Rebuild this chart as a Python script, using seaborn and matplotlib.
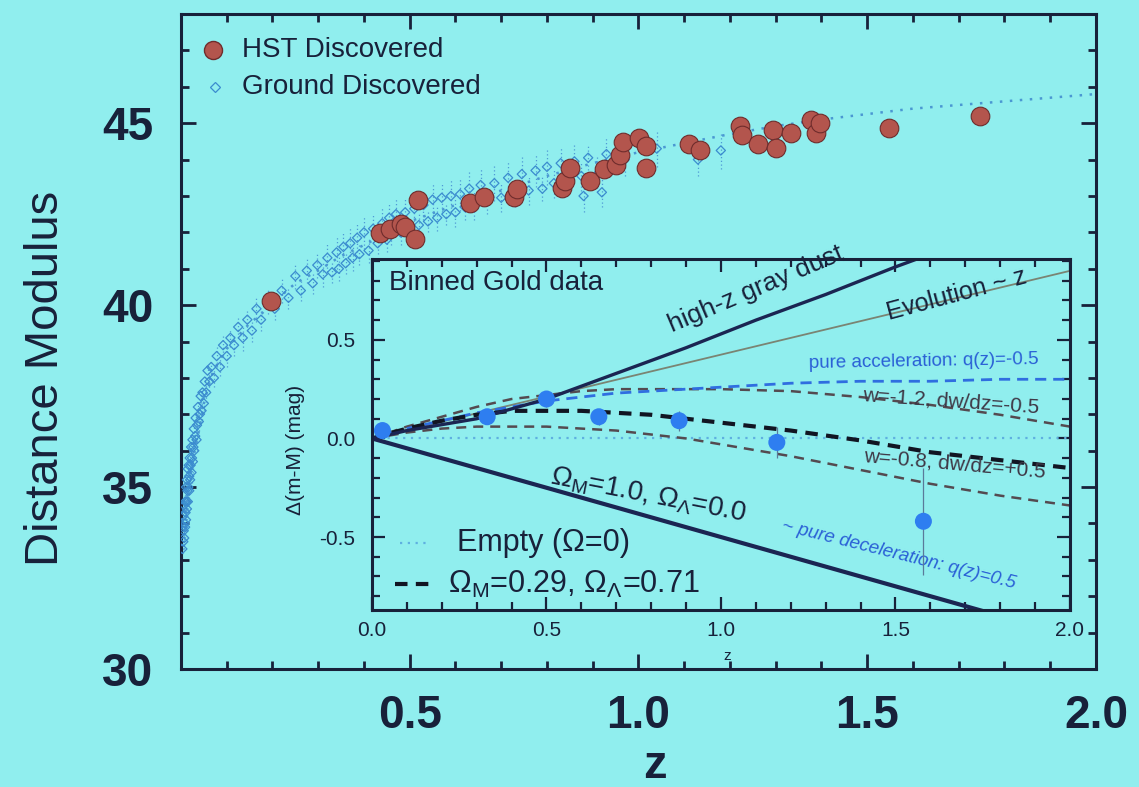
import matplotlib
matplotlib.use("Agg")
import matplotlib.pyplot as plt
import seaborn as sns
from matplotlib.ticker import FixedLocator, FixedFormatter, MultipleLocator

# ---------------- Hubble diagram data ----------------
hst_z = [0.197, 0.436, 0.457, 0.48, 0.49, 0.512, 0.518, 0.632, 0.662, 0.728,
         0.734, 0.832, 0.839, 0.85, 0.893, 0.924, 0.95, 0.96, 0.967, 1.002,
         1.017, 1.017, 1.111, 1.135, 1.222, 1.226, 1.261, 1.294, 1.30, 1.333,
         1.377, 1.388, 1.396, 1.547, 1.747]
hst_mu = [40.11, 41.98, 42.08, 42.24, 42.15, 41.83, 42.89, 42.80, 42.98, 42.96,
          43.18, 43.23, 43.42, 43.77, 43.41, 43.73, 43.85, 44.12, 44.48, 44.60,
          44.38, 43.78, 44.44, 44.27, 44.92, 44.68, 44.42, 44.80, 44.33, 44.73,
          45.10, 44.72, 45.01, 44.87, 45.19]

ground_z = [0.003, 0.004, 0.005, 0.005, 0.006, 0.007, 0.007, 0.008, 0.009, 0.009,
            0.010, 0.011, 0.011, 0.012, 0.013, 0.013, 0.014, 0.015, 0.015, 0.016,
            0.017, 0.018, 0.018, 0.019, 0.020, 0.021, 0.022, 0.023, 0.024, 0.025,
            0.026, 0.027, 0.028, 0.029, 0.031, 0.032, 0.034, 0.035, 0.037, 0.039,
            0.041, 0.043, 0.045, 0.047, 0.050, 0.052, 0.055, 0.058, 0.062, 0.066,
            0.072, 0.078, 0.085, 0.092, 0.100, 0.108, 0.116, 0.125, 0.135, 0.145,
            0.155, 0.165, 0.175, 0.190, 0.205, 0.220, 0.235, 0.250, 0.262, 0.275,
            0.288, 0.298,
            0.31, 0.32, 0.33, 0.34, 0.345, 0.355, 0.36, 0.37, 0.375, 0.385,
            0.39, 0.40, 0.41, 0.42, 0.43, 0.44, 0.45, 0.455, 0.46, 0.47,
            0.48, 0.49, 0.50, 0.51, 0.52, 0.53, 0.54, 0.55, 0.56, 0.57,
            0.58, 0.59,
            0.60, 0.61, 0.62, 0.63, 0.64, 0.655, 0.67, 0.685, 0.70, 0.715,
            0.73, 0.745, 0.76, 0.775, 0.79, 0.80, 0.815, 0.83, 0.845, 0.86,
            0.875, 0.88, 0.89, 0.91, 0.92, 0.93,
            0.97, 1.04, 1.13, 1.18]
ground_mu = [33.3, 33.9, 33.5, 34.2, 33.8, 34.5, 33.6, 34.0, 34.6, 33.9,
             34.3, 35.0, 34.1, 34.6, 35.2, 34.4, 34.9, 35.5, 34.6, 35.0,
             35.6, 34.9, 35.3, 35.8, 35.2, 35.6, 36.1, 35.4, 35.8, 36.3,
             35.7, 36.1, 36.6, 36.0, 36.4, 36.9, 36.3, 36.7, 37.2, 36.8,
             37.0, 37.5, 37.1, 37.6, 37.3, 37.9, 37.6, 38.2, 37.9, 38.3,
             38.0, 38.6, 38.3, 38.9, 38.6, 39.1, 38.9, 39.4, 39.1, 39.6,
             39.3, 39.9, 39.6, 40.1, 39.9, 40.4, 40.2, 40.8, 40.4, 40.95,
             40.6, 41.1,
             40.85, 41.3, 40.9, 41.45, 41.0, 41.6, 41.15, 41.7, 41.3, 41.85,
             41.4, 42.0, 41.5, 42.1, 41.7, 42.25, 41.8, 42.4, 41.95, 42.5,
             42.0, 42.55, 42.1, 42.65, 42.2, 42.75, 42.3, 42.9, 42.4, 42.95,
             42.5, 43.0,
             42.55, 43.05, 42.7, 43.2, 42.75, 43.3, 42.85, 43.35, 42.95, 43.5,
             43.05, 43.6, 43.15, 43.7, 43.2, 43.8, 43.35, 43.9, 43.4, 43.95,
             43.55, 43.0, 44.05, 43.6, 43.1, 44.15,
             44.0, 44.3, 44.0, 44.25]
ground_err = [0.25, 0.2, 0.3, 0.2, 0.25, 0.2, 0.3, 0.2, 0.25, 0.3,
              0.2, 0.25, 0.3, 0.2, 0.2, 0.3, 0.25, 0.2, 0.3, 0.25,
              0.2, 0.3, 0.25, 0.2, 0.25, 0.2, 0.2, 0.3, 0.25, 0.2,
              0.3, 0.25, 0.2, 0.25, 0.2, 0.2, 0.3, 0.25, 0.2, 0.25,
              0.2, 0.2, 0.25, 0.2, 0.3, 0.2, 0.25, 0.2, 0.25, 0.2,
              0.25, 0.3, 0.25, 0.3, 0.3, 0.25, 0.3, 0.3, 0.35, 0.3,
              0.3, 0.35, 0.3, 0.35, 0.3, 0.35, 0.3, 0.35, 0.3, 0.35,
              0.3, 0.35,
              0.35, 0.4, 0.3, 0.45, 0.35, 0.4, 0.3, 0.45, 0.35, 0.4,
              0.3, 0.45, 0.35, 0.4, 0.3, 0.45, 0.35, 0.4, 0.3, 0.45,
              0.35, 0.4, 0.3, 0.45, 0.35, 0.4, 0.3, 0.45, 0.35, 0.4,
              0.3, 0.45,
              0.4, 0.45, 0.35, 0.5, 0.4, 0.45, 0.35, 0.5, 0.4, 0.45,
              0.35, 0.5, 0.4, 0.45, 0.35, 0.5, 0.4, 0.45, 0.35, 0.5,
              0.4, 0.45, 0.35, 0.5, 0.4, 0.45,
              0.45, 0.5, 0.45, 0.5]

model_z = [0.01, 0.02, 0.03, 0.04, 0.05, 0.065, 0.08, 0.10, 0.125, 0.15,
           0.175, 0.20, 0.25, 0.30, 0.35, 0.40, 0.50, 0.60, 0.70, 0.80,
           0.90, 1.00, 1.10, 1.20, 1.30, 1.40, 1.50, 1.60, 1.70, 1.80,
           1.90, 2.00]
model_mu = [34.3, 35.3, 36.0, 36.6, 37.3, 38.0, 38.4, 38.8, 39.15, 39.5,
            39.75, 40.05, 40.6, 40.95, 41.35, 41.65, 42.3, 42.75, 43.15, 43.55,
            43.9, 44.2, 44.45, 44.7, 44.92, 45.1, 45.25, 45.4, 45.5, 45.6,
            45.7, 45.8]

# ---------------- inset: residuals from an empty universe ----------------
bin_z = [0.03, 0.33, 0.50, 0.65, 0.88, 1.16, 1.58]
bin_dm = [0.04, 0.11, 0.20, 0.11, 0.09, -0.02, -0.42]
bin_err = [0.02, 0.03, 0.04, 0.04, 0.05, 0.08, 0.27]

curve_z = [0.0, 0.1, 0.2, 0.3, 0.4, 0.5, 0.6, 0.7, 0.8, 0.9, 1.0, 1.2, 1.4, 1.6, 1.8, 2.0]
lcdm_dm = [0.00, 0.05, 0.09, 0.12, 0.14, 0.14, 0.14, 0.13, 0.12, 0.10, 0.08, 0.04, -0.01, -0.07, -0.11, -0.15]
accel_dm = [0.00, 0.05, 0.09, 0.13, 0.16, 0.19, 0.21, 0.23, 0.24, 0.25, 0.26, 0.28, 0.29, 0.29, 0.30, 0.30]
w12_dm = [0.00, 0.06, 0.11, 0.16, 0.20, 0.22, 0.24, 0.25, 0.25, 0.25, 0.25, 0.24, 0.21, 0.17, 0.12, 0.06]
w08_dm = [0.00, 0.03, 0.05, 0.06, 0.06, 0.06, 0.05, 0.04, 0.02, 0.00, -0.03, -0.09, -0.16, -0.23, -0.29, -0.34]
eds_dm = [0.00, -0.05, -0.10, -0.15, -0.20, -0.25, -0.30, -0.35, -0.40, -0.45, -0.50, -0.60, -0.70, -0.80, -0.90, -1.00]

dust_z = [0.0, 0.1, 0.2, 0.3, 0.4, 0.5, 0.7, 0.9, 1.1, 1.3, 1.5, 1.7]
dust_dm = [0.00, 0.04, 0.07, 0.10, 0.15, 0.20, 0.33, 0.46, 0.60, 0.73, 0.87, 1.00]
evo_z = [0.0, 2.0]
evo_dm = [0.0, 0.85]
empty_z = [0.0, 2.0]
empty_dm = [0.0, 0.0]

main_xticks = [0.0, 0.5, 1.0, 1.5, 2.0]
main_xlabels = ["", "0.5", "1.0", "1.5", "2.0"]
main_yticks = [30, 35, 40, 45]
inset_xticks = [0.0, 0.5, 1.0, 1.5, 2.0]
inset_xlabels = ["0.0", "0.5", "1.0", "1.5", "2.0"]
inset_yticks = [-0.5, 0.0, 0.5]
inset_ylabels = ["-0.5", "0.0", "0.5"]

# ---------------- style ----------------
BG = "#90eeee"
INK = "#18213a"
HST_FACE = "#b3554d"
HST_EDGE = "#6f2c2c"
GROUND = "#3b8ccf"
BIN_BLUE = "#2e7ef0"
LABEL_BLUE = "#2a60d6"
GREY_DASH = "#544a50"

sns.set_theme(style="ticks")
plt.rcParams["font.family"] = ["Liberation Sans", "DejaVu Sans"]
plt.rcParams["mathtext.fontset"] = "custom"
plt.rcParams["mathtext.rm"] = "Liberation Sans"
plt.rcParams["mathtext.it"] = "Liberation Sans:italic"
plt.rcParams["mathtext.bf"] = "Liberation Sans:bold"
plt.rcParams["text.color"] = INK

fig = plt.figure(figsize=(11.39, 7.87), dpi=100, facecolor=BG)
ax = fig.add_axes([0.1589, 0.1499, 0.8033, 0.8323], facecolor=BG)

# ---- main Hubble diagram ----
sns.lineplot(x=model_z, y=model_mu, ax=ax, color="#4a98d2", linewidth=1.8,
             linestyle=(0, (1, 3)), estimator=None, sort=False, zorder=1)

eb = ax.errorbar(ground_z, ground_mu, yerr=ground_err, fmt="none",
                 ecolor="#4f9ad6", elinewidth=0.9, zorder=2)
eb[2][0].set_linestyle((0, (1, 2)))
sns.scatterplot(x=ground_z, y=ground_mu, ax=ax, marker="D", s=22,
                linewidth=0.9, zorder=3, legend=False)
ax.collections[-1].set_facecolor("none")
ax.collections[-1].set_edgecolor(GROUND)

sns.scatterplot(x=hst_z, y=hst_mu, ax=ax, s=180, color=HST_FACE,
                edgecolor=HST_EDGE, linewidth=0.8, zorder=4, legend=False)

ax.set_xlim(0.0, 2.0)
ax.set_ylim(30.0, 48.0)
ax.xaxis.set_major_locator(FixedLocator(main_xticks))
ax.xaxis.set_major_formatter(FixedFormatter(main_xlabels))
ax.xaxis.set_minor_locator(MultipleLocator(0.1))
ax.yaxis.set_major_locator(FixedLocator(main_yticks))
ax.yaxis.set_minor_locator(MultipleLocator(1))
ax.tick_params(which="both", direction="in", top=True, right=True,
               color=INK, width=2.0)
ax.tick_params(which="major", length=11)
ax.tick_params(which="minor", length=5.5)
ax.tick_params(axis="x", which="major", pad=18, labelsize=33, labelcolor=INK)
ax.tick_params(axis="y", which="major", pad=20, labelsize=33, labelcolor=INK)
for lab in ax.get_xticklabels() + ax.get_yticklabels():
    lab.set_fontweight("bold")
for sp in ax.spines.values():
    sp.set_linewidth(2.2)
    sp.set_color(INK)
    sp.set_visible(True)

ax.set_xlabel("")
ax.set_ylabel("Distance Modulus", fontsize=34, color=INK)
ax.yaxis.set_label_coords(-0.123, 0.444)
fig.text(655 / 1139, 1 - 778 / 787, "z", fontsize=34, fontweight="bold",
         color=INK, ha="center", va="baseline")

# legend
ax.plot([0.035], [0.945], marker="o", markersize=13, color=HST_FACE,
        markeredgecolor=HST_EDGE, transform=ax.transAxes, clip_on=False)
ax.text(0.0667, 0.945, "HST Discovered", transform=ax.transAxes,
        fontsize=20, va="center", ha="left", color=INK)
ax.plot([0.037], [0.8885], marker="D", markersize=5, markerfacecolor="none",
        markeredgecolor=GROUND, markeredgewidth=0.9, transform=ax.transAxes)
ax.text(0.0667, 0.8885, "Ground Discovered", transform=ax.transAxes,
        fontsize=20, va="center", ha="left", color=INK)

# ---- inset: binned residuals ----
ax2 = fig.add_axes([0.3266, 0.2249, 0.6128, 0.4460], facecolor=BG)
ax2.set_zorder(5)

sns.lineplot(x=empty_z, y=empty_dm, ax=ax2, color="#5fb0e0", linewidth=1.6,
             linestyle=(0, (1, 2.5)), estimator=None, sort=False)
sns.lineplot(x=evo_z, y=evo_dm, ax=ax2, color="#7a8473", linewidth=1.3,
             estimator=None, sort=False)
sns.lineplot(x=curve_z, y=w12_dm, ax=ax2, color=GREY_DASH, linewidth=1.8,
             linestyle=(0, (4, 2.8)), estimator=None, sort=False)
sns.lineplot(x=curve_z, y=w08_dm, ax=ax2, color=GREY_DASH, linewidth=1.8,
             linestyle=(0, (4, 2.8)), estimator=None, sort=False)
sns.lineplot(x=curve_z, y=accel_dm, ax=ax2, color="#2f6ee0", linewidth=2.0,
             linestyle=(0, (4, 2.5)), estimator=None, sort=False)
sns.lineplot(x=curve_z, y=lcdm_dm, ax=ax2, color="#111522", linewidth=3.0,
             linestyle=(0, (3, 2)), estimator=None, sort=False)
sns.lineplot(x=curve_z, y=eds_dm, ax=ax2, color="#1b2552", linewidth=3.0,
             estimator=None, sort=False)
sns.lineplot(x=dust_z, y=dust_dm, ax=ax2, color="#1b2552", linewidth=2.4,
             estimator=None, sort=False)

ax2.errorbar(bin_z, bin_dm, yerr=bin_err, fmt="none", ecolor="#5a7a9a",
             elinewidth=0.9, zorder=5)
sns.scatterplot(x=bin_z, y=bin_dm, ax=ax2, s=150, color=BIN_BLUE,
                edgecolor="none", zorder=6, legend=False)

ax2.set_xlim(0.0, 2.0)
ax2.set_ylim(-0.87, 0.91)
ax2.xaxis.set_major_locator(FixedLocator(inset_xticks))
ax2.xaxis.set_major_formatter(FixedFormatter(inset_xlabels))
ax2.xaxis.set_minor_locator(MultipleLocator(0.1))
ax2.yaxis.set_major_locator(FixedLocator(inset_yticks))
ax2.yaxis.set_major_formatter(FixedFormatter(inset_ylabels))
ax2.yaxis.set_minor_locator(MultipleLocator(0.1))
ax2.tick_params(which="both", direction="in", top=True, right=True,
                color=INK, width=1.6)
ax2.tick_params(which="major", length=9.5)
ax2.tick_params(which="minor", length=5.5)
ax2.tick_params(axis="x", which="major", pad=8, labelsize=15, labelcolor=INK)
ax2.tick_params(axis="y", which="major", pad=12, labelsize=15, labelcolor=INK)
for sp in ax2.spines.values():
    sp.set_linewidth(2.2)
    sp.set_color(INK)
    sp.set_visible(True)
ax2.set_xlabel("")
ax2.set_ylabel("\u0394(m-M) (mag)", fontsize=15, color=INK)
ax2.yaxis.set_label_coords(-0.096, 0.456)
fig.text(727 / 1139, 1 - 660 / 787, "z", fontsize=11, color=INK,
         ha="center", va="baseline")

# inset annotations
ax2.text(0.05, 0.79, "Binned Gold data", fontsize=20, ha="left", va="center")
ax2.text(1.10, 0.755, "high-z gray dust", fontsize=19, rotation=23,
         ha="center", va="center", rotation_mode="anchor")
ax2.text(1.676, 0.73, "Evolution ~ z", fontsize=18, rotation=15,
         ha="center", va="center", rotation_mode="anchor")
ax2.text(1.58, 0.39, "pure acceleration: q(z)=-0.5", fontsize=13.5,
         color=LABEL_BLUE, rotation=1, ha="center", va="center",
         rotation_mode="anchor")
ax2.text(1.66, 0.19, "w=-1.2, dw/dz=-0.5", fontsize=15, color="#3e3846",
         rotation=-4, ha="center", va="center", rotation_mode="anchor")
ax2.text(1.67, -0.13, "w=-0.8, dw/dz=+0.5", fontsize=15, color="#3e3846",
         rotation=-5, ha="center", va="center", rotation_mode="anchor")
ax2.text(0.79, -0.29, r"$\Omega_\mathrm{M}$=1.0, $\Omega_\Lambda$=0.0",
         fontsize=20, rotation=-11, ha="center", va="center",
         rotation_mode="anchor")
ax2.text(1.51, -0.59, "~ pure deceleration: q(z)=0.5", fontsize=13.5,
         style="italic", color=LABEL_BLUE, rotation=-14, ha="center",
         va="center", rotation_mode="anchor")

# inset key
ax2.plot([0.08, 0.17], [-0.53, -0.53], color="#5fb0e0", linewidth=1.6,
         linestyle=(0, (1, 2.5)))
ax2.text(0.244, -0.53, "Empty (\u03a9=0)", fontsize=22, ha="left", va="center")
ax2.plot([0.066, 0.17], [-0.74, -0.74], color="#111522", linewidth=3.0,
         linestyle=(0, (3, 2)))
ax2.text(0.218, -0.74, r"$\Omega_\mathrm{M}$=0.29, $\Omega_\Lambda$=0.71",
         fontsize=22, ha="left", va="center")

fig.savefig("out.png", dpi=100, facecolor=BG)
